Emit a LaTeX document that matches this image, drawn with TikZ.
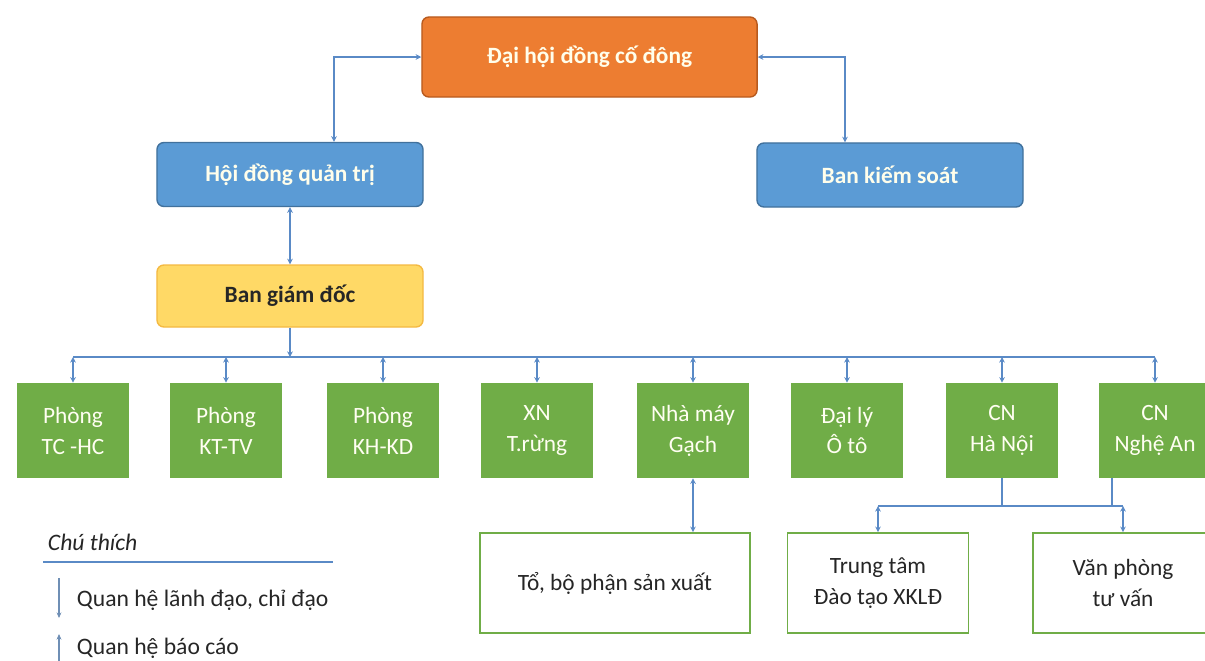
\documentclass[tikz,border=0pt]{standalone}
\usepackage{fontspec}
\setmainfont{Carlito}
\usetikzlibrary{arrows.meta}

\definecolor{orgfill}{HTML}{ED7D31}
\definecolor{orgline}{HTML}{B85A1E}
\definecolor{bluefill}{HTML}{5B9BD5}
\definecolor{blueline}{HTML}{41719C}
\definecolor{yelfill}{HTML}{FFD966}
\definecolor{yelline}{HTML}{F4B942}
\definecolor{grnfill}{HTML}{70AD47}
\definecolor{linkcol}{HTML}{5A8AC6}
\definecolor{legcol}{HTML}{6F8FB5}

\begin{document}
\begin{tikzpicture}[x=0.025cm, y=-0.025cm,
  top/.style={draw=orgline, fill=orgfill, rounded corners=5pt, line width=1pt,
              minimum width=8.375cm, minimum height=2cm, text=white!92!yellow,
              font=\bfseries\fontsize{16.6}{22}\selectfont},
  board/.style={draw=blueline, fill=bluefill, rounded corners=5pt, line width=1pt,
              minimum width=6.65cm, minimum height=1.6cm, text=white!92!yellow,
              font=\bfseries\fontsize{16.6}{22}\selectfont},
  director/.style={draw=yelline, fill=yelfill, rounded corners=5pt, line width=1pt,
              minimum width=6.65cm, minimum height=1.55cm, text=black!85,
              font=\bfseries\fontsize{16.6}{22}\selectfont},
  dept/.style={fill=grnfill, minimum width=2.775cm, minimum height=2.375cm,
              align=center, text=white!95!yellow, font=\fontsize{16.6}{22}\selectfont},
  unit/.style={draw=grnfill, fill=white, line width=1.2pt, minimum height=2.5cm,
              align=center, text=black!85, font=\fontsize{16.6}{22}\selectfont},
  legtext/.style={anchor=west, text=black!85, font=\fontsize{16.8}{22}\selectfont},
  line/.style={draw=linkcol, line width=1.1pt},
  link/.style={line, {Stealth[length=4pt,width=4pt]}-{Stealth[length=4pt,width=4pt]}},
  down/.style={line, -{Stealth[length=4pt,width=4pt]}},
  legarrow/.style={draw=legcol, line width=0.8pt, -{Stealth[length=4pt,width=3.5pt]}}
]
  \useasboundingbox (0,0) rectangle (1205,660);

  % upper levels
  \node[top] (dhcd) at (589.5,57) {Đại hội đồng cố đông};
  \node[board] (hdqt) at (290,174.5) {Hội đồng quản trị};
  \node[board] (bks) at (890,175) {Ban kiếm soát};
  \node[director] (bgd) at (290,296) {Ban giám đốc};

  \draw[link] ([xshift=1.1cm]hdqt.north) |- (dhcd.west);
  \draw[link] (dhcd.east) -| ([xshift=-1.125cm]bks.north);
  \draw[link] (hdqt) -- (bgd);

  % departments
  \node[dept] (tchc) at (73,430.5) {Phòng\\TC -HC};
  \node[dept] (kttv) at (226,430.5) {Phòng\\KT-TV};
  \node[dept] (khkd) at (383,430.5) {Phòng\\KH-KD};
  \node[dept] (xntr) at (537,430.5) {XN\\T.rừng};
  \node[dept] (nmg) at (693,430.5) {Nhà máy\\Gạch};
  \node[dept] (dlot) at (847,430.5) {Đại lý\\Ô tô};
  \node[dept] (cnhn) at (1002,430.5) {CN\\Hà Nội};
  \node[dept] (cnna) at (1155,430.5) {CN\\Nghệ An};

  \coordinate (busL) at (73,357);
  \coordinate (busR) at (1155,357);
  \draw[line] (busL) -- (busR);
  \draw[down] (bgd.south) -- (bgd.south |- busL);
  \foreach \d in {tchc,kttv,khkd,xntr,nmg,dlot,cnhn,cnna}
    \draw[link] (\d.north |- busL) -- (\d.north);

  % lower units
  \node[unit, minimum width=6.75cm] (tobp) at (615,583) {Tổ, bộ phận sản xuất};
  \node[unit, minimum width=4.525cm] (ttdt) at (878,583) {Trung tâm\\Đào tạo XKLĐ};
  \node[unit, minimum width=4.5cm] (vptv) at (1123,583) {Văn phòng\\tư vấn};

  \draw[link] (nmg.south) -- (nmg.south |- tobp.north);
  \coordinate (fork) at (1002,506);
  \draw[line] (cnhn.south) -- (fork);
  \draw[line] ([xshift=-1.075cm]cnna.south) -- ([xshift=-1.075cm]cnna.south |- fork);
  \draw[line] (ttdt.north |- fork) -- (vptv.north |- fork);
  \draw[link] (ttdt.north |- fork) -- (ttdt.north);
  \draw[link] (vptv.north |- fork) -- (vptv.north);

  % legend
  \node[legtext, font=\itshape\fontsize{16.8}{22}\selectfont] (legtitle) at (43,542) {Chú thích};
  \coordinate (legA) at (43,562);
  \coordinate (legB) at (333,562);
  \draw[line, line width=1.5pt] (legA) -- (legB);
  \coordinate (dnA) at (59,578);
  \coordinate (dnB) at (59,618);
  \draw[legarrow] (dnA) -- (dnB);
  \node[legtext] (leglead) at (72,600) {Quan hệ lãnh đạo, chỉ đạo};
  \coordinate (upA) at (59,668);
  \coordinate (upB) at (59,634);
  \draw[legarrow] (upA) -- (upB);
  \node[legtext] (legrep) at (72,648) {Quan hệ báo cáo};
\end{tikzpicture}
\end{document}
